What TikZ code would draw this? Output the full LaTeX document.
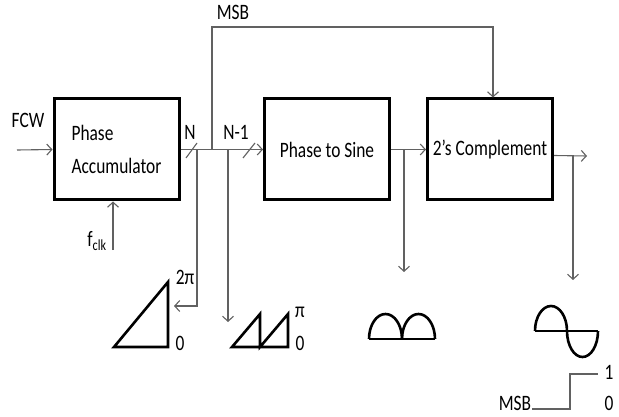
\documentclass[tikz,border=0pt]{standalone}
\usepackage{fontspec}
\setmainfont{Carlito}[FakeStretch=0.79]
\usepackage{tikz}
\usetikzlibrary{arrows.meta}
\usetikzlibrary{calc}
\tikzstyle{blk} = [rectangle, draw, line width=3pt, minimum width=125pt, minimum height=101pt, inner sep=0pt]
\tikzstyle{sig} = [draw=black!62, line width=1.1pt]
\tikzstyle{wav} = [draw, line width=2.6pt, line join=miter]
\tikzstyle{lbl} = [inner sep=0pt]

\begin{document}
\begin{tikzpicture}[x=1pt,y=-1pt,>={Straight Barb[length=5pt,width=11pt]},font=\fontsize{22}{33}\selectfont]
				\useasboundingbox (0,0) rectangle (619,417);
				\node[blk,align=left] (acc) at (116.5,149.5) {Phase\\Accumulator};
				\node[blk] (pts) at (327,149.5) {Phase to Sine};
				\node[blk] (cmp) at (490,149.5) {2’s Complement};
				%%%%%%%%%%%%%%%%%%%%%%%%%%%%%%%%%%
				\coordinate (fcw) at (17,150);
				\coordinate (tn) at (197,150);
				\coordinate (tmsb) at (212,150);
				\coordinate (msbtop) at (212,27);
				\coordinate (tn1) at (228,150);
				\coordinate (tsin) at (404,150);
				\coordinate (tout) at (573,156);
				\coordinate (out) at (587,156);
				\coordinate (clk) at (113,250);
				\coordinate (rampin) at (174,306);
				\coordinate (sawin) at (228,322);
				\coordinate (rectin) at (404,272);
				\coordinate (sinin) at (573,280);
				%%%%%%%%%%%%%%%%%%%%%%%%%%%%%%%%%%
				\node[lbl] (lfcw) at (28,120) {FCW};
				\node[lbl] (ln) at (190,132) {N};
				\node[lbl] (ln1) at (236,132) {N-1};
				\node[lbl] (lmsb) at (233,12) {MSB};
				\node[lbl] (lclk) at (97,241) {f\textsubscript{clk}};
				\node[lbl] (l2pi) at (185,277) {2π};
				\node[lbl] (lr0) at (180,343) {0};
				\node[lbl] (lpi) at (300,312) {π};
				\node[lbl] (ls0) at (300,343) {0};
				\node[lbl] (lmsbb) at (515,403) {MSB};
				\node[lbl] (lone) at (609,372) {1};
				\node[lbl] (lzero) at (609,403) {0};
				%%%%%%%%%%%%%%%%%%%%%%%%%%%%%%%%%%
				\draw[sig,->] (fcw) -- (acc.west);
				\draw[sig,->] (acc.east) -- (pts.west);
				\draw[sig,->] (pts.east) -- (cmp.west);
				\draw[sig,->] ([yshift=-6pt]cmp.east) -- (out);
				\draw[sig,->] (clk) -- (clk |- acc.south);
				\draw[sig,->] (tn) |- (rampin);
				\draw[sig,->] (tmsb) -- (msbtop) -| ([xshift=3pt]cmp.north);
				\draw[sig,->] (tn1) -- (sawin);
				\draw[sig,->] (tsin) -- (rectin);
				\draw[sig,->] (tout) -- (sinin);
				\draw[sig] (186,158) -- (197,143);
				\draw[sig] (243,158) -- (255,143);
				%%%%%%%%%%%%%%%%%%%%%%%%%%%%%%%%%%
				\draw[wav] (114,347) -- (168,282) -- (168,347) -- cycle;
				\draw[wav] (232,347) -- (288,347) -- (288,314) -- (260,347) -- (260,314) -- cycle;
				\draw[wav] (369,339) -- (435,339);
				\draw[wav] (369,339) arc[start angle=180,end angle=360,x radius=16.5,y radius=25];
				\draw[wav] (402,339) arc[start angle=180,end angle=360,x radius=16.5,y radius=25];
				\draw[wav] (535,331) -- (598,331);
				\draw[wav] (535,331) arc[start angle=180,end angle=360,x radius=16,y radius=25]
					arc[start angle=180,end angle=0,x radius=15.5,y radius=26];
				\draw[sig] (532,409) -- (570,409) -- (570,374) -- (598,374);
%				\node at (0,0) {};
			\end{tikzpicture}
\end{document}
